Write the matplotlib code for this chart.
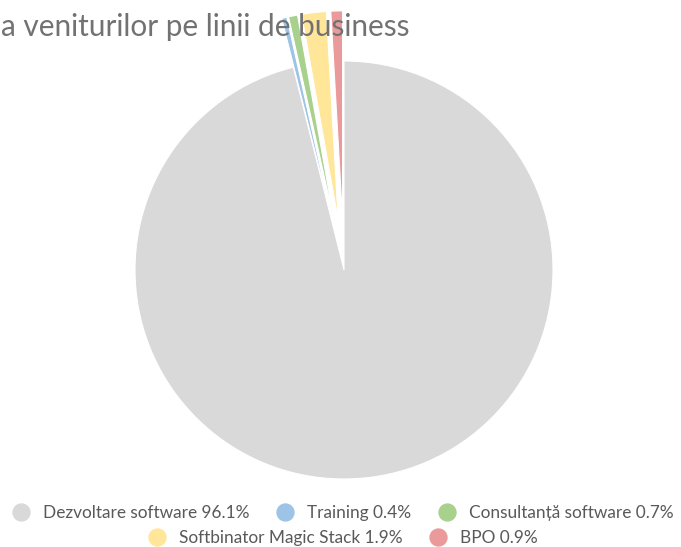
import matplotlib.pyplot as plt
from matplotlib.lines import Line2D

labels = ["Dezvoltare software", "Training", "Consultanță software",
          "Softbinator Magic Stack", "BPO"]
shares = [96.1, 0.4, 0.7, 1.9, 0.9]
colors = ["#d9d9d9", "#9dc3e6", "#a9d18e", "#ffe699", "#ea9a9a"]
explode = [0, 0.24, 0.24, 0.24, 0.24]

W, H, DPI = 681, 547, 100
fig = plt.figure(figsize=(W / DPI, H / DPI), dpi=DPI)

# pie centre and radius in pixels
cx, cy, r = 344, H - 270, 209
half = 1.3 * r
ax = fig.add_axes([(cx - half) / W, (cy - half) / H, 2 * half / W, 2 * half / H])
ax.pie(shares, colors=colors, explode=explode, startangle=90, counterclock=False,
       wedgeprops=dict(edgecolor="white", linewidth=0.8))
ax.set_xlim(-1.3, 1.3)
ax.set_ylim(-1.3, 1.3)
ax.set_aspect("equal")
ax.axis("off")

# title is cut at the left edge in the source image
fig.text(1 / W, 1 - 36 / H, "a veniturilor pe linii de business",
         ha="left", va="baseline", fontsize=21.4, color="#727272", family="Lato")

def handles(idx):
    return [Line2D([], [], marker="o", linestyle="", markersize=12.2,
                   markerfacecolor=colors[i], markeredgecolor=colors[i],
                   label=f"{labels[i]} {shares[i]}%") for i in idx]

common = dict(frameon=False, prop=dict(family="Lato", size=12.4),
              labelcolor="#595959", handletextpad=0.78, columnspacing=1.59,
              handlelength=1.0, borderaxespad=0, borderpad=0)
fig.legend(handles=handles([0, 1, 2]), ncol=3, loc="center",
           bbox_to_anchor=(343 / W, 1 - 513 / H), **common)
fig.legend(handles=handles([3, 4]), ncol=2, loc="center",
           bbox_to_anchor=(343 / W, 1 - 538 / H), **common)

fig.savefig("out.png", dpi=DPI)
